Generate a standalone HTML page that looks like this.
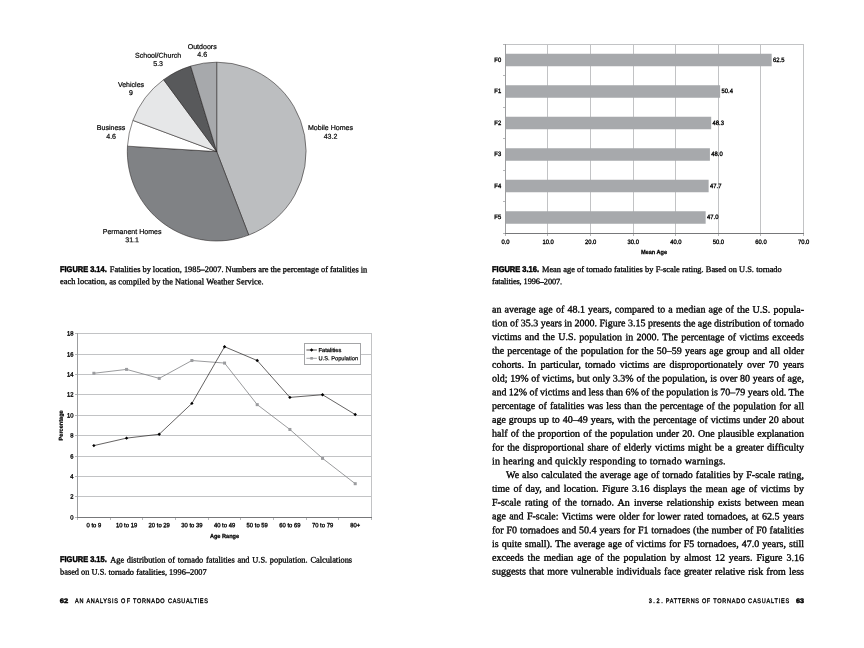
<!DOCTYPE html>
<html lang="en"><head><meta charset="utf-8"><title>Patterns of Tornado Casualties</title>
<style>
html,body{margin:0;padding:0;background:#fff;}
body{width:864px;height:648px;position:relative;overflow:hidden;}
svg{position:absolute;left:0;top:0;}
svg text{white-space:pre;text-rendering:geometricPrecision;}
</style></head><body>
<svg width="864" height="648" viewBox="0 0 864 648">
<g stroke="#231f20" stroke-width="0.55" stroke-linejoin="round">
<path d="M216.7,151.6 L216.70,62.20 A89.4,89.4 0 0 1 248.71,235.07 Z" fill="#bcbec0"/>
<path d="M216.7,151.6 L248.71,235.07 A89.4,89.4 0 0 1 127.47,146.15 Z" fill="#808285"/>
<path d="M216.7,151.6 L127.47,146.15 A89.4,89.4 0 0 1 132.92,120.39 Z" fill="#ffffff"/>
<path d="M216.7,151.6 L132.92,120.39 A89.4,89.4 0 0 1 163.60,79.68 Z" fill="#e6e7e8"/>
<path d="M216.7,151.6 L163.60,79.68 A89.4,89.4 0 0 1 190.66,66.08 Z" fill="#58595b"/>
<path d="M216.7,151.6 L190.66,66.08 A89.4,89.4 0 0 1 216.70,62.20 Z" fill="#a7a9ac"/>
</g>
<g font-family='"Liberation Sans", Arial, sans-serif'>
<text transform="translate(202.20,48.90) rotate(0.03)" font-size="7.05" text-anchor="middle" font-weight="normal" fill="#000" stroke="#000" stroke-width="0.2">Outdoors</text>
<text transform="translate(202.20,56.70) rotate(0.03)" font-size="7.05" text-anchor="middle" font-weight="normal" fill="#000" stroke="#000" stroke-width="0.2">4.6</text>
<text transform="translate(158.10,57.70) rotate(0.03)" font-size="7.05" text-anchor="middle" font-weight="normal" fill="#000" stroke="#000" stroke-width="0.2">School/Church</text>
<text transform="translate(158.10,66.00) rotate(0.03)" font-size="7.05" text-anchor="middle" font-weight="normal" fill="#000" stroke="#000" stroke-width="0.2">5.3</text>
<text transform="translate(131.00,86.90) rotate(0.03)" font-size="7.05" text-anchor="middle" font-weight="normal" fill="#000" stroke="#000" stroke-width="0.2">Vehicles</text>
<text transform="translate(131.00,94.90) rotate(0.03)" font-size="7.05" text-anchor="middle" font-weight="normal" fill="#000" stroke="#000" stroke-width="0.2">9</text>
<text transform="translate(111.10,129.90) rotate(0.03)" font-size="7.05" text-anchor="middle" font-weight="normal" fill="#000" stroke="#000" stroke-width="0.2">Business</text>
<text transform="translate(111.10,138.70) rotate(0.03)" font-size="7.05" text-anchor="middle" font-weight="normal" fill="#000" stroke="#000" stroke-width="0.2">4.6</text>
<text transform="translate(330.50,129.90) rotate(0.03)" font-size="7.05" text-anchor="middle" font-weight="normal" fill="#000" stroke="#000" stroke-width="0.2">Mobile Homes</text>
<text transform="translate(330.50,138.70) rotate(0.03)" font-size="7.05" text-anchor="middle" font-weight="normal" fill="#000" stroke="#000" stroke-width="0.2">43.2</text>
<text transform="translate(132.10,234.00) rotate(0.03)" font-size="7.05" text-anchor="middle" font-weight="normal" fill="#000" stroke="#000" stroke-width="0.2">Permanent Homes</text>
<text transform="translate(132.10,242.30) rotate(0.03)" font-size="7.05" text-anchor="middle" font-weight="normal" fill="#000" stroke="#000" stroke-width="0.2">31.1</text>
<g fill="#c2c3c5" shape-rendering="crispEdges">
<rect x="77" y="496" width="295" height="1"/>
<rect x="77" y="476" width="295" height="1"/>
<rect x="77" y="456" width="295" height="1"/>
<rect x="77" y="435" width="295" height="1"/>
<rect x="77" y="415" width="295" height="1"/>
<rect x="77" y="394" width="295" height="1"/>
<rect x="77" y="374" width="295" height="1"/>
<rect x="77" y="354" width="295" height="1"/>
<rect x="77" y="333" width="295" height="1"/>
<rect x="371" y="333" width="1" height="185"/>
<rect x="77" y="333" width="1" height="185" fill="#9c9d9f"/>
<rect x="77" y="517" width="295" height="1" fill="#77787a"/>
<rect x="75" y="517" width="2" height="1" fill="#b5b6b8"/>
<rect x="75" y="496" width="2" height="1" fill="#b5b6b8"/>
<rect x="75" y="476" width="2" height="1" fill="#b5b6b8"/>
<rect x="75" y="456" width="2" height="1" fill="#b5b6b8"/>
<rect x="75" y="435" width="2" height="1" fill="#b5b6b8"/>
<rect x="75" y="415" width="2" height="1" fill="#b5b6b8"/>
<rect x="75" y="394" width="2" height="1" fill="#b5b6b8"/>
<rect x="75" y="374" width="2" height="1" fill="#b5b6b8"/>
<rect x="75" y="354" width="2" height="1" fill="#b5b6b8"/>
<rect x="75" y="333" width="2" height="1" fill="#b5b6b8"/>
<rect x="77" y="518" width="1" height="2" fill="#b5b6b8"/>
<rect x="110" y="518" width="1" height="2" fill="#b5b6b8"/>
<rect x="142" y="518" width="1" height="2" fill="#b5b6b8"/>
<rect x="175" y="518" width="1" height="2" fill="#b5b6b8"/>
<rect x="208" y="518" width="1" height="2" fill="#b5b6b8"/>
<rect x="240" y="518" width="1" height="2" fill="#b5b6b8"/>
<rect x="273" y="518" width="1" height="2" fill="#b5b6b8"/>
<rect x="306" y="518" width="1" height="2" fill="#b5b6b8"/>
<rect x="338" y="518" width="1" height="2" fill="#b5b6b8"/>
<rect x="371" y="518" width="1" height="2" fill="#b5b6b8"/>
</g>
<polyline points="93.88,373.28 126.55,369.40 159.22,378.39 191.88,360.52 224.55,363.07 257.22,404.64 289.88,429.46 322.55,458.37 355.22,483.70" fill="none" stroke="#808184" stroke-width="0.8"/>
<rect x="92.38" y="371.78" width="3" height="3" fill="#9b9c9f"/>
<rect x="125.05" y="367.90" width="3" height="3" fill="#9b9c9f"/>
<rect x="157.72" y="376.89" width="3" height="3" fill="#9b9c9f"/>
<rect x="190.38" y="359.02" width="3" height="3" fill="#9b9c9f"/>
<rect x="223.05" y="361.57" width="3" height="3" fill="#9b9c9f"/>
<rect x="255.72" y="403.14" width="3" height="3" fill="#9b9c9f"/>
<rect x="288.38" y="427.96" width="3" height="3" fill="#9b9c9f"/>
<rect x="321.05" y="456.87" width="3" height="3" fill="#9b9c9f"/>
<rect x="353.72" y="482.20" width="3" height="3" fill="#9b9c9f"/>
<polyline points="93.88,445.60 126.55,438.14 159.22,434.26 191.88,403.42 224.55,346.73 257.22,360.52 289.88,397.39 322.55,394.73 355.22,414.55" fill="none" stroke="#231f20" stroke-width="0.7"/>
<path d="M92.18,445.60 L93.88,443.90 L95.58,445.60 L93.88,447.30 Z" fill="#000"/>
<path d="M124.85,438.14 L126.55,436.44 L128.25,438.14 L126.55,439.84 Z" fill="#000"/>
<path d="M157.52,434.26 L159.22,432.56 L160.92,434.26 L159.22,435.96 Z" fill="#000"/>
<path d="M190.18,403.42 L191.88,401.72 L193.58,403.42 L191.88,405.12 Z" fill="#000"/>
<path d="M222.85,346.73 L224.55,345.03 L226.25,346.73 L224.55,348.43 Z" fill="#000"/>
<path d="M255.52,360.52 L257.22,358.82 L258.92,360.52 L257.22,362.22 Z" fill="#000"/>
<path d="M288.18,397.39 L289.88,395.69 L291.58,397.39 L289.88,399.09 Z" fill="#000"/>
<path d="M320.85,394.73 L322.55,393.03 L324.25,394.73 L322.55,396.43 Z" fill="#000"/>
<path d="M353.52,414.55 L355.22,412.85 L356.92,414.55 L355.22,416.25 Z" fill="#000"/>
<rect x="304.5" y="343.5" width="56" height="21" fill="#fff" stroke="#a4a5a7" stroke-width="1" shape-rendering="crispEdges"/>
<path d="M306.4,350 H316.9" stroke="#231f20" stroke-width="0.8"/>
<path d="M309.90,350.00 L311.60,348.30 L313.30,350.00 L311.60,351.70 Z" fill="#000"/>
<path d="M306.4,358.3 H316.9" stroke="#8c8d90" stroke-width="0.8"/>
<rect x="310.3" y="357" width="2.6" height="2.6" fill="#98999c"/>
<text transform="translate(318.60,352.00) rotate(0.03)" font-size="5.7" text-anchor="start" font-weight="normal" fill="#000" stroke="#000" stroke-width="0.25">Fatalities</text>
<text transform="translate(318.60,360.30) rotate(0.03)" font-size="5.7" text-anchor="start" font-weight="normal" fill="#000" stroke="#000" stroke-width="0.2">U.S. Population</text>
<text transform="translate(73.50,519.40) rotate(0.03) scale(0.95,1)" font-size="6.2" text-anchor="end" font-weight="normal" fill="#000" stroke="#000" stroke-width="0.32">0</text>
<text transform="translate(73.50,498.50) rotate(0.03) scale(0.95,1)" font-size="6.2" text-anchor="end" font-weight="normal" fill="#000" stroke="#000" stroke-width="0.32">2</text>
<text transform="translate(73.50,478.55) rotate(0.03) scale(0.95,1)" font-size="6.2" text-anchor="end" font-weight="normal" fill="#000" stroke="#000" stroke-width="0.32">4</text>
<text transform="translate(73.50,458.55) rotate(0.03) scale(0.95,1)" font-size="6.2" text-anchor="end" font-weight="normal" fill="#000" stroke="#000" stroke-width="0.32">6</text>
<text transform="translate(73.50,437.55) rotate(0.03) scale(0.95,1)" font-size="6.2" text-anchor="end" font-weight="normal" fill="#000" stroke="#000" stroke-width="0.32">8</text>
<text transform="translate(73.50,417.55) rotate(0.03) scale(0.95,1)" font-size="6.2" text-anchor="end" font-weight="normal" fill="#000" stroke="#000" stroke-width="0.32">10</text>
<text transform="translate(73.50,396.55) rotate(0.03) scale(0.95,1)" font-size="6.2" text-anchor="end" font-weight="normal" fill="#000" stroke="#000" stroke-width="0.32">12</text>
<text transform="translate(73.50,376.55) rotate(0.03) scale(0.95,1)" font-size="6.2" text-anchor="end" font-weight="normal" fill="#000" stroke="#000" stroke-width="0.32">14</text>
<text transform="translate(73.50,356.55) rotate(0.03) scale(0.95,1)" font-size="6.2" text-anchor="end" font-weight="normal" fill="#000" stroke="#000" stroke-width="0.32">16</text>
<text transform="translate(73.50,335.55) rotate(0.03) scale(0.95,1)" font-size="6.2" text-anchor="end" font-weight="normal" fill="#000" stroke="#000" stroke-width="0.32">18</text>
<text transform="translate(93.88,527.20) rotate(0.03) scale(0.95,1)" font-size="6.2" text-anchor="middle" font-weight="normal" fill="#000" stroke="#000" stroke-width="0.32">0 to 9</text>
<text transform="translate(126.55,527.20) rotate(0.03) scale(0.95,1)" font-size="6.2" text-anchor="middle" font-weight="normal" fill="#000" stroke="#000" stroke-width="0.32">10 to 19</text>
<text transform="translate(159.22,527.20) rotate(0.03) scale(0.95,1)" font-size="6.2" text-anchor="middle" font-weight="normal" fill="#000" stroke="#000" stroke-width="0.32">20 to 29</text>
<text transform="translate(191.88,527.20) rotate(0.03) scale(0.95,1)" font-size="6.2" text-anchor="middle" font-weight="normal" fill="#000" stroke="#000" stroke-width="0.32">30 to 39</text>
<text transform="translate(224.55,527.20) rotate(0.03) scale(0.95,1)" font-size="6.2" text-anchor="middle" font-weight="normal" fill="#000" stroke="#000" stroke-width="0.32">40 to 49</text>
<text transform="translate(257.22,527.20) rotate(0.03) scale(0.95,1)" font-size="6.2" text-anchor="middle" font-weight="normal" fill="#000" stroke="#000" stroke-width="0.32">50 to 59</text>
<text transform="translate(289.88,527.20) rotate(0.03) scale(0.95,1)" font-size="6.2" text-anchor="middle" font-weight="normal" fill="#000" stroke="#000" stroke-width="0.32">60 to 69</text>
<text transform="translate(322.55,527.20) rotate(0.03) scale(0.95,1)" font-size="6.2" text-anchor="middle" font-weight="normal" fill="#000" stroke="#000" stroke-width="0.32">70 to 79</text>
<text transform="translate(355.22,527.20) rotate(0.03) scale(0.95,1)" font-size="6.2" text-anchor="middle" font-weight="normal" fill="#000" stroke="#000" stroke-width="0.32">80+</text>
<text transform="translate(224.50,537.90) rotate(0.03) scale(0.95,1)" font-size="5.9" text-anchor="middle" font-weight="bold" fill="#000" stroke="#000" stroke-width="0.25">Age Range</text>
<text transform="translate(62.8,425.4) rotate(-89.97) scale(0.98,1)" font-size="5.7" text-anchor="middle" font-weight="bold" stroke="#000" stroke-width="0.25">Percentage</text>
<g fill="#c2c3c5" shape-rendering="crispEdges">
<rect x="547" y="44" width="1" height="190"/>
<rect x="590" y="44" width="1" height="190"/>
<rect x="633" y="44" width="1" height="190"/>
<rect x="675" y="44" width="1" height="190"/>
<rect x="718" y="44" width="1" height="190"/>
<rect x="760" y="44" width="1" height="190"/>
<rect x="505" y="44" width="299" height="1"/>
<rect x="803" y="44" width="1" height="190"/>
</g>
<rect x="505.5" y="53.75" width="266.16" height="12.5" fill="#a7a9ac"/>
<rect x="505.5" y="85.25" width="214.63" height="12.5" fill="#a7a9ac"/>
<rect x="505.5" y="116.75" width="205.69" height="12.5" fill="#a7a9ac"/>
<rect x="505.5" y="148.25" width="204.41" height="12.5" fill="#a7a9ac"/>
<rect x="505.5" y="179.75" width="203.13" height="12.5" fill="#a7a9ac"/>
<rect x="505.5" y="211.25" width="200.15" height="12.5" fill="#a7a9ac"/>
<g fill="#6d6e71" shape-rendering="crispEdges">
<rect x="505" y="44" width="1" height="190" fill="#9c9d9f"/>
<rect x="505" y="233" width="299" height="1" fill="#77787a"/>
<rect x="503" y="44" width="2" height="1" fill="#b5b6b8"/>
<rect x="503" y="75" width="2" height="1" fill="#b5b6b8"/>
<rect x="503" y="107" width="2" height="1" fill="#b5b6b8"/>
<rect x="503" y="138" width="2" height="1" fill="#b5b6b8"/>
<rect x="503" y="170" width="2" height="1" fill="#b5b6b8"/>
<rect x="503" y="201" width="2" height="1" fill="#b5b6b8"/>
<rect x="503" y="233" width="2" height="1" fill="#b5b6b8"/>
<rect x="505" y="234" width="1" height="2" fill="#b5b6b8"/>
<rect x="547" y="234" width="1" height="2" fill="#b5b6b8"/>
<rect x="590" y="234" width="1" height="2" fill="#b5b6b8"/>
<rect x="633" y="234" width="1" height="2" fill="#b5b6b8"/>
<rect x="675" y="234" width="1" height="2" fill="#b5b6b8"/>
<rect x="718" y="234" width="1" height="2" fill="#b5b6b8"/>
<rect x="760" y="234" width="1" height="2" fill="#b5b6b8"/>
<rect x="803" y="234" width="1" height="2" fill="#b5b6b8"/>
</g>
<text transform="translate(501.20,61.75) rotate(0.03) scale(0.93,1)" font-size="6.3" text-anchor="end" font-weight="normal" fill="#000" stroke="#000" stroke-width="0.32">F0</text>
<text transform="translate(773.06,61.75) rotate(0.03) scale(0.93,1)" font-size="6.3" text-anchor="start" font-weight="normal" fill="#000" stroke="#000" stroke-width="0.32">62.5</text>
<text transform="translate(501.20,93.25) rotate(0.03) scale(0.93,1)" font-size="6.3" text-anchor="end" font-weight="normal" fill="#000" stroke="#000" stroke-width="0.32">F1</text>
<text transform="translate(721.53,93.25) rotate(0.03) scale(0.93,1)" font-size="6.3" text-anchor="start" font-weight="normal" fill="#000" stroke="#000" stroke-width="0.32">50.4</text>
<text transform="translate(501.20,124.75) rotate(0.03) scale(0.93,1)" font-size="6.3" text-anchor="end" font-weight="normal" fill="#000" stroke="#000" stroke-width="0.32">F2</text>
<text transform="translate(712.59,124.75) rotate(0.03) scale(0.93,1)" font-size="6.3" text-anchor="start" font-weight="normal" fill="#000" stroke="#000" stroke-width="0.32">48.3</text>
<text transform="translate(501.20,156.25) rotate(0.03) scale(0.93,1)" font-size="6.3" text-anchor="end" font-weight="normal" fill="#000" stroke="#000" stroke-width="0.32">F3</text>
<text transform="translate(711.31,156.25) rotate(0.03) scale(0.93,1)" font-size="6.3" text-anchor="start" font-weight="normal" fill="#000" stroke="#000" stroke-width="0.32">48.0</text>
<text transform="translate(501.20,187.75) rotate(0.03) scale(0.93,1)" font-size="6.3" text-anchor="end" font-weight="normal" fill="#000" stroke="#000" stroke-width="0.32">F4</text>
<text transform="translate(710.03,187.75) rotate(0.03) scale(0.93,1)" font-size="6.3" text-anchor="start" font-weight="normal" fill="#000" stroke="#000" stroke-width="0.32">47.7</text>
<text transform="translate(501.20,219.25) rotate(0.03) scale(0.93,1)" font-size="6.3" text-anchor="end" font-weight="normal" fill="#000" stroke="#000" stroke-width="0.32">F5</text>
<text transform="translate(707.05,219.25) rotate(0.03) scale(0.93,1)" font-size="6.3" text-anchor="start" font-weight="normal" fill="#000" stroke="#000" stroke-width="0.32">47.0</text>
<text transform="translate(505.50,244.00) rotate(0.03) scale(0.93,1)" font-size="6.3" text-anchor="middle" font-weight="normal" fill="#000" stroke="#000" stroke-width="0.32">0.0</text>
<text transform="translate(548.09,244.00) rotate(0.03) scale(0.93,1)" font-size="6.3" text-anchor="middle" font-weight="normal" fill="#000" stroke="#000" stroke-width="0.32">10.0</text>
<text transform="translate(590.67,244.00) rotate(0.03) scale(0.93,1)" font-size="6.3" text-anchor="middle" font-weight="normal" fill="#000" stroke="#000" stroke-width="0.32">20.0</text>
<text transform="translate(633.26,244.00) rotate(0.03) scale(0.93,1)" font-size="6.3" text-anchor="middle" font-weight="normal" fill="#000" stroke="#000" stroke-width="0.32">30.0</text>
<text transform="translate(675.84,244.00) rotate(0.03) scale(0.93,1)" font-size="6.3" text-anchor="middle" font-weight="normal" fill="#000" stroke="#000" stroke-width="0.32">40.0</text>
<text transform="translate(718.43,244.00) rotate(0.03) scale(0.93,1)" font-size="6.3" text-anchor="middle" font-weight="normal" fill="#000" stroke="#000" stroke-width="0.32">50.0</text>
<text transform="translate(761.01,244.00) rotate(0.03) scale(0.93,1)" font-size="6.3" text-anchor="middle" font-weight="normal" fill="#000" stroke="#000" stroke-width="0.32">60.0</text>
<text transform="translate(803.60,244.00) rotate(0.03) scale(0.93,1)" font-size="6.3" text-anchor="middle" font-weight="normal" fill="#000" stroke="#000" stroke-width="0.32">70.0</text>
<text transform="translate(654.00,254.00) rotate(0.03) scale(0.95,1)" font-size="5.9" text-anchor="middle" font-weight="bold" fill="#000" stroke="#000" stroke-width="0.25">Mean Age</text>
</g>
<text transform="translate(60.00,271.80) rotate(0.03) scale(0.8962,1)" font-family='"Liberation Sans", Arial, sans-serif' font-size="8.3" font-weight="bold" stroke="#000" stroke-width="0.5">FIGURE 3.14.</text>
<text transform="translate(109.80,272.00) rotate(0.03)" font-family='"Liberation Serif", "Times New Roman", serif' font-size="8.35" font-weight="normal" style="word-spacing:-0.016px" stroke="#000" stroke-width="0.3">Fatalities by location, 1985–2007. Numbers are the percentage of fatalities in</text>
<text transform="translate(60.00,284.10) rotate(0.03)" font-family='"Liberation Serif", "Times New Roman", serif' font-size="8.35" font-weight="normal" style="letter-spacing:0.051px" stroke="#000" stroke-width="0.3">each location, as compiled by the National Weather Service.</text>
<text transform="translate(60.00,562.30) rotate(0.03) scale(0.8962,1)" font-family='"Liberation Sans", Arial, sans-serif' font-size="8.3" font-weight="bold" stroke="#000" stroke-width="0.5">FIGURE 3.15.</text>
<text transform="translate(110.20,562.50) rotate(0.03)" font-family='"Liberation Serif", "Times New Roman", serif' font-size="8.35" font-weight="normal" style="word-spacing:0.661px" stroke="#000" stroke-width="0.3">Age distribution of tornado fatalities and U.S. population. Calculations</text>
<text transform="translate(60.00,574.60) rotate(0.03)" font-family='"Liberation Serif", "Times New Roman", serif' font-size="8.35" font-weight="normal" style="letter-spacing:0.006px" stroke="#000" stroke-width="0.3">based on U.S. tornado fatalities, 1996–2007</text>
<text transform="translate(492.00,271.80) rotate(0.03) scale(0.9019,1)" font-family='"Liberation Sans", Arial, sans-serif' font-size="8.3" font-weight="bold" stroke="#000" stroke-width="0.5">FIGURE 3.16.</text>
<text transform="translate(542.00,272.00) rotate(0.03)" font-family='"Liberation Serif", "Times New Roman", serif' font-size="8.35" font-weight="normal" style="word-spacing:0.179px" stroke="#000" stroke-width="0.3">Mean age of tornado fatalities by F-scale rating. Based on U.S. tornado</text>
<text transform="translate(492.00,284.10) rotate(0.03)" font-family='"Liberation Serif", "Times New Roman", serif' font-size="8.35" font-weight="normal" style="letter-spacing:-0.111px" stroke="#000" stroke-width="0.3">fatalities, 1996–2007.</text>
<text transform="translate(59.80,603.00) rotate(0.03) scale(1.1611,1)" font-family='"Liberation Sans", Arial, sans-serif' font-size="6.5" font-weight="bold" stroke="#000" stroke-width="0.45">62</text>
<text transform="translate(74.90,603.00) rotate(0.03) scale(0.8500,1)" font-family='"Liberation Sans", Arial, sans-serif' font-size="6.5" font-weight="normal" style="letter-spacing:1.204px" stroke="#000" stroke-width="0.35">AN</text>
<text transform="translate(86.50,603.00) rotate(0.03) scale(0.8500,1)" font-family='"Liberation Sans", Arial, sans-serif' font-size="6.5" font-weight="normal" style="letter-spacing:0.804px" stroke="#000" stroke-width="0.35">ANALYSIS</text>
<text transform="translate(121.00,603.00) rotate(0.03) scale(0.8500,1)" font-family='"Liberation Sans", Arial, sans-serif' font-size="6.5" font-weight="normal" style="letter-spacing:1.792px" stroke="#000" stroke-width="0.35">OF</text>
<text transform="translate(133.00,603.00) rotate(0.03) scale(0.8500,1)" font-family='"Liberation Sans", Arial, sans-serif' font-size="6.5" font-weight="normal" style="letter-spacing:0.798px" stroke="#000" stroke-width="0.35">TORNADO</text>
<text transform="translate(168.00,603.00) rotate(0.03) scale(0.8500,1)" font-family='"Liberation Sans", Arial, sans-serif' font-size="6.5" font-weight="normal" style="letter-spacing:0.773px" stroke="#000" stroke-width="0.35">CASUALTIES</text>
<text transform="translate(648.70,603.00) rotate(0.03) scale(0.8500,1)" font-family='"Liberation Sans", Arial, sans-serif' font-size="6.5" font-weight="normal" style="letter-spacing:1.876px" stroke="#000" stroke-width="0.35">3.2.</text>
<text transform="translate(665.80,603.00) rotate(0.03) scale(0.8500,1)" font-family='"Liberation Sans", Arial, sans-serif' font-size="6.5" font-weight="normal" style="letter-spacing:0.763px" stroke="#000" stroke-width="0.35">PATTERNS</text>
<text transform="translate(701.90,603.00) rotate(0.03) scale(0.8500,1)" font-family='"Liberation Sans", Arial, sans-serif' font-size="6.5" font-weight="normal" style="letter-spacing:0.616px" stroke="#000" stroke-width="0.35">OF</text>
<text transform="translate(713.30,603.00) rotate(0.03) scale(0.8500,1)" font-family='"Liberation Sans", Arial, sans-serif' font-size="6.5" font-weight="normal" style="letter-spacing:0.856px" stroke="#000" stroke-width="0.35">TORNADO</text>
<text transform="translate(748.10,603.00) rotate(0.03) scale(0.8500,1)" font-family='"Liberation Sans", Arial, sans-serif' font-size="6.5" font-weight="normal" style="letter-spacing:0.930px" stroke="#000" stroke-width="0.35">CASUALTIES</text>
<text transform="translate(795.90,603.00) rotate(0.03) scale(1.1058,1)" font-family='"Liberation Sans", Arial, sans-serif' font-size="6.5" font-weight="bold" stroke="#000" stroke-width="0.45">63</text>
<text transform="translate(492.00,312.50) rotate(0.03)" font-family='"Liberation Serif", "Times New Roman", serif' font-size="10" font-weight="normal" style="word-spacing:0.667px" stroke="#000" stroke-width="0.34">an average age of 48.1 years, compared to a median age of the U.S. popula-</text>
<text transform="translate(492.00,326.29) rotate(0.03)" font-family='"Liberation Serif", "Times New Roman", serif' font-size="10" font-weight="normal" style="word-spacing:-0.056px" stroke="#000" stroke-width="0.34">tion of 35.3 years in 2000. Figure 3.15 presents the age distribution of tornado</text>
<text transform="translate(492.00,340.08) rotate(0.03)" font-family='"Liberation Serif", "Times New Roman", serif' font-size="10" font-weight="normal" style="word-spacing:0.861px" stroke="#000" stroke-width="0.34">victims and the U.S. population in 2000. The percentage of victims exceeds</text>
<text transform="translate(492.00,353.87) rotate(0.03)" font-family='"Liberation Serif", "Times New Roman", serif' font-size="10" font-weight="normal" style="word-spacing:0.653px" stroke="#000" stroke-width="0.34">the percentage of the population for the 50–59 years age group and all older</text>
<text transform="translate(492.00,367.66) rotate(0.03)" font-family='"Liberation Serif", "Times New Roman", serif' font-size="10" font-weight="normal" style="word-spacing:1.602px" stroke="#000" stroke-width="0.34">cohorts. In particular, tornado victims are disproportionately over 70 years</text>
<text transform="translate(492.00,381.45) rotate(0.03)" font-family='"Liberation Serif", "Times New Roman", serif' font-size="10" font-weight="normal" style="word-spacing:0.192px" stroke="#000" stroke-width="0.34">old; 19% of victims, but only 3.3% of the population, is over 80 years of age,</text>
<text transform="translate(492.00,395.24) rotate(0.03)" font-family='"Liberation Serif", "Times New Roman", serif' font-size="10" font-weight="normal" style="word-spacing:-0.184px" stroke="#000" stroke-width="0.34">and 12% of victims and less than 6% of the population is 70–79 years old. The</text>
<text transform="translate(492.00,409.03) rotate(0.03)" font-family='"Liberation Serif", "Times New Roman", serif' font-size="10" font-weight="normal" style="word-spacing:0.639px" stroke="#000" stroke-width="0.34">percentage of fatalities was less than the percentage of the population for all</text>
<text transform="translate(492.00,422.82) rotate(0.03)" font-family='"Liberation Serif", "Times New Roman", serif' font-size="10" font-weight="normal" style="word-spacing:0.459px" stroke="#000" stroke-width="0.34">age groups up to 40–49 years, with the percentage of victims under 20 about</text>
<text transform="translate(492.00,436.61) rotate(0.03)" font-family='"Liberation Serif", "Times New Roman", serif' font-size="10" font-weight="normal" style="word-spacing:0.743px" stroke="#000" stroke-width="0.34">half of the proportion of the population under 20. One plausible explanation</text>
<text transform="translate(492.00,450.40) rotate(0.03)" font-family='"Liberation Serif", "Times New Roman", serif' font-size="10" font-weight="normal" style="word-spacing:0.989px" stroke="#000" stroke-width="0.34">for the disproportional share of elderly victims might be a greater difficulty</text>
<text transform="translate(492.00,464.19) rotate(0.03)" font-family='"Liberation Serif", "Times New Roman", serif' font-size="10" font-weight="normal" style="letter-spacing:0.226px" stroke="#000" stroke-width="0.34">in hearing and quickly responding to tornado warnings.</text>
<text transform="translate(506.00,477.98) rotate(0.03)" font-family='"Liberation Serif", "Times New Roman", serif' font-size="10" font-weight="normal" style="word-spacing:0.509px" stroke="#000" stroke-width="0.34">We also calculated the average age of tornado fatalities by F-scale rating,</text>
<text transform="translate(492.00,491.77) rotate(0.03)" font-family='"Liberation Serif", "Times New Roman", serif' font-size="10" font-weight="normal" style="word-spacing:1.234px" stroke="#000" stroke-width="0.34">time of day, and location. Figure 3.16 displays the mean age of victims by</text>
<text transform="translate(492.00,505.56) rotate(0.03)" font-family='"Liberation Serif", "Times New Roman", serif' font-size="10" font-weight="normal" style="word-spacing:1.569px" stroke="#000" stroke-width="0.34">F-scale rating of the tornado. An inverse relationship exists between mean</text>
<text transform="translate(492.00,519.35) rotate(0.03)" font-family='"Liberation Serif", "Times New Roman", serif' font-size="10" font-weight="normal" style="word-spacing:0.797px" stroke="#000" stroke-width="0.34">age and F-scale: Victims were older for lower rated tornadoes, at 62.5 years</text>
<text transform="translate(492.00,533.14) rotate(0.03)" font-family='"Liberation Serif", "Times New Roman", serif' font-size="10" font-weight="normal" style="word-spacing:0.373px" stroke="#000" stroke-width="0.34">for F0 tornadoes and 50.4 years for F1 tornadoes (the number of F0 fatalities</text>
<text transform="translate(492.00,546.93) rotate(0.03)" font-family='"Liberation Serif", "Times New Roman", serif' font-size="10" font-weight="normal" style="word-spacing:0.579px" stroke="#000" stroke-width="0.34">is quite small). The average age of victims for F5 tornadoes, 47.0 years, still</text>
<text transform="translate(492.00,560.72) rotate(0.03)" font-family='"Liberation Serif", "Times New Roman", serif' font-size="10" font-weight="normal" style="word-spacing:1.469px" stroke="#000" stroke-width="0.34">exceeds the median age of the population by almost 12 years. Figure 3.16</text>
<text transform="translate(492.00,574.51) rotate(0.03)" font-family='"Liberation Serif", "Times New Roman", serif' font-size="10" font-weight="normal" style="word-spacing:0.709px" stroke="#000" stroke-width="0.34">suggests that more vulnerable individuals face greater relative risk from less</text>
</svg>
</body></html>
